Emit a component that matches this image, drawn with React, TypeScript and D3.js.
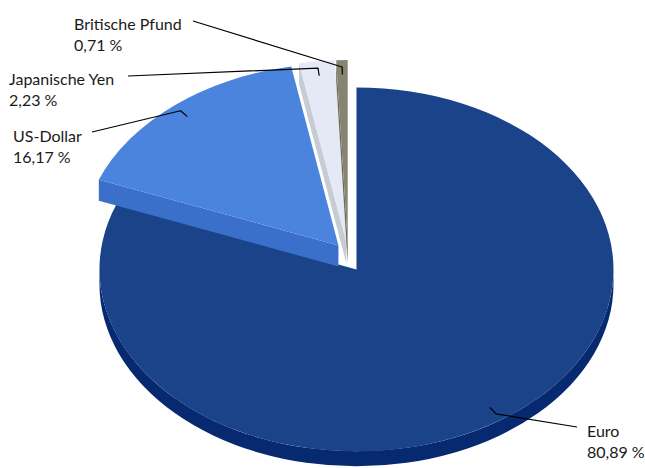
import React from "react";
import * as d3 from "d3";

const categories = ["Euro", "US-Dollar", "Japanische Yen", "Britische Pfund"];
const shares = [80.89, 16.17, 2.23, 0.71];
const valueLabels = ["80,89 %", "16,17 %", "2,23 %", "0,71 %"];

// styles
const topColors = ["#1a438a", "#4a84dc", "#e4e9f5", "#858470"];
const wallColors = ["#06296f", "#3a6fca", "#c6cbd4", "#6c6b59"];
const wallDepths = [15, 21, 21, 21];

// layout
const W = 645;
const H = 468;
const CX = 348;
const CY = 257;
const RX = 257;
const RY = 182;
const EXPLODE = 15;
const labelLayout = [
  { x: 587, y: 437, lx: 577, ly: 427 },
  { x: 13, y: 142, lx: 92, ly: 132 },
  { x: 9, y: 85, lx: 128, ly: 76 },
  { x: 74, y: 30, lx: 193, ly: 21 },
];

type P = [number, number];

export default function App() {
  const pie = d3
    .pie<number>()
    .sort(null)
    .value((d) => d)
    .startAngle(0)
    .endAngle(2 * Math.PI);
  const arcs = pie(shares);

  const slices = arcs.map((a, i) => {
    const DEPTH = wallDepths[i];
    const mid = (a.startAngle + a.endAngle) / 2;
    const ox = EXPLODE * Math.sin(mid);
    const oy = -EXPLODE * Math.cos(mid);
    const pt = (ang: number, f = 1, h = 0): P => [
      CX + ox + RX * f * Math.sin(ang),
      CY + oy - RY * f * Math.cos(ang) + h,
    ];
    const c: P = [CX + ox, CY + oy];
    const a0 = a.startAngle;
    const a1 = a.endAngle;
    const large = a1 - a0 > Math.PI ? 1 : 0;
    const p0 = pt(a0);
    const p1 = pt(a1);
    const top = `M${c[0]},${c[1]}L${p0[0]},${p0[1]}A${RX},${RY} 0 ${large} 1 ${p1[0]},${p1[1]}Z`;

    const walls: string[] = [];
    if (Math.sin(a0) < -1e-6) {
      walls.push(
        `M${c[0]},${c[1]}L${p0[0]},${p0[1]}L${p0[0]},${p0[1] + DEPTH}L${c[0]},${c[1] + DEPTH}Z`
      );
    }
    if (Math.sin(a1) > 1e-6) {
      walls.push(
        `M${c[0]},${c[1]}L${p1[0]},${p1[1]}L${p1[0]},${p1[1] + DEPTH}L${c[0]},${c[1] + DEPTH}Z`
      );
    }
    const outer: string[] = [];
    const s = Math.max(a0, Math.PI / 2);
    const e = Math.min(a1, (3 * Math.PI) / 2);
    if (e > s) {
      const ps = pt(s);
      const pe = pt(e);
      const lg = e - s > Math.PI ? 1 : 0;
      outer.push(
        `M${ps[0]},${ps[1]}A${RX},${RY} 0 ${lg} 1 ${pe[0]},${pe[1]}L${pe[0]},${pe[1] + DEPTH}A${RX},${RY} 0 ${lg} 0 ${ps[0]},${ps[1] + DEPTH}Z`
      );
    }
    const anchor = pt(mid, 0.92);
    const elbow = pt(mid, 0.962);
    return { i, top, walls, outer, anchor, elbow };
  });

  const line = d3.line<P>();

  return (
    <svg
      width={W}
      height={H}
      style={{ position: "absolute", left: 0, top: 0 }}
      fontFamily="Lato, 'Noto Sans', sans-serif"
    >
      <rect width={W} height={H} fill="#ffffff" />
      {slices.map((s) => (
        <g key={categories[s.i]}>
          {s.outer.map((d, k) => (
            <path key={"o" + k} d={d} fill={wallColors[s.i]} />
          ))}
          {s.walls.map((d, k) => (
            <path key={"w" + k} d={d} fill={wallColors[s.i]} />
          ))}
          <path d={s.top} fill={topColors[s.i]} />
        </g>
      ))}
      {slices.map((s) => {
        const L = labelLayout[s.i];
        const pts: P[] = [[L.lx, L.ly], s.elbow, s.anchor];
        return (
          <g key={"l" + s.i}>
            <path
              d={line(pts) || ""}
              fill="none"
              stroke="#000"
              strokeWidth={1.2}
              strokeLinejoin="round"
            />
            <text x={L.x} y={L.y} fontSize={16} fill="#1a1a1a">
              {categories[s.i]}
            </text>
            <text x={L.x} y={L.y + 20.5} fontSize={16} fill="#1a1a1a">
              {valueLabels[s.i]}
            </text>
          </g>
        );
      })}
    </svg>
  );
}
